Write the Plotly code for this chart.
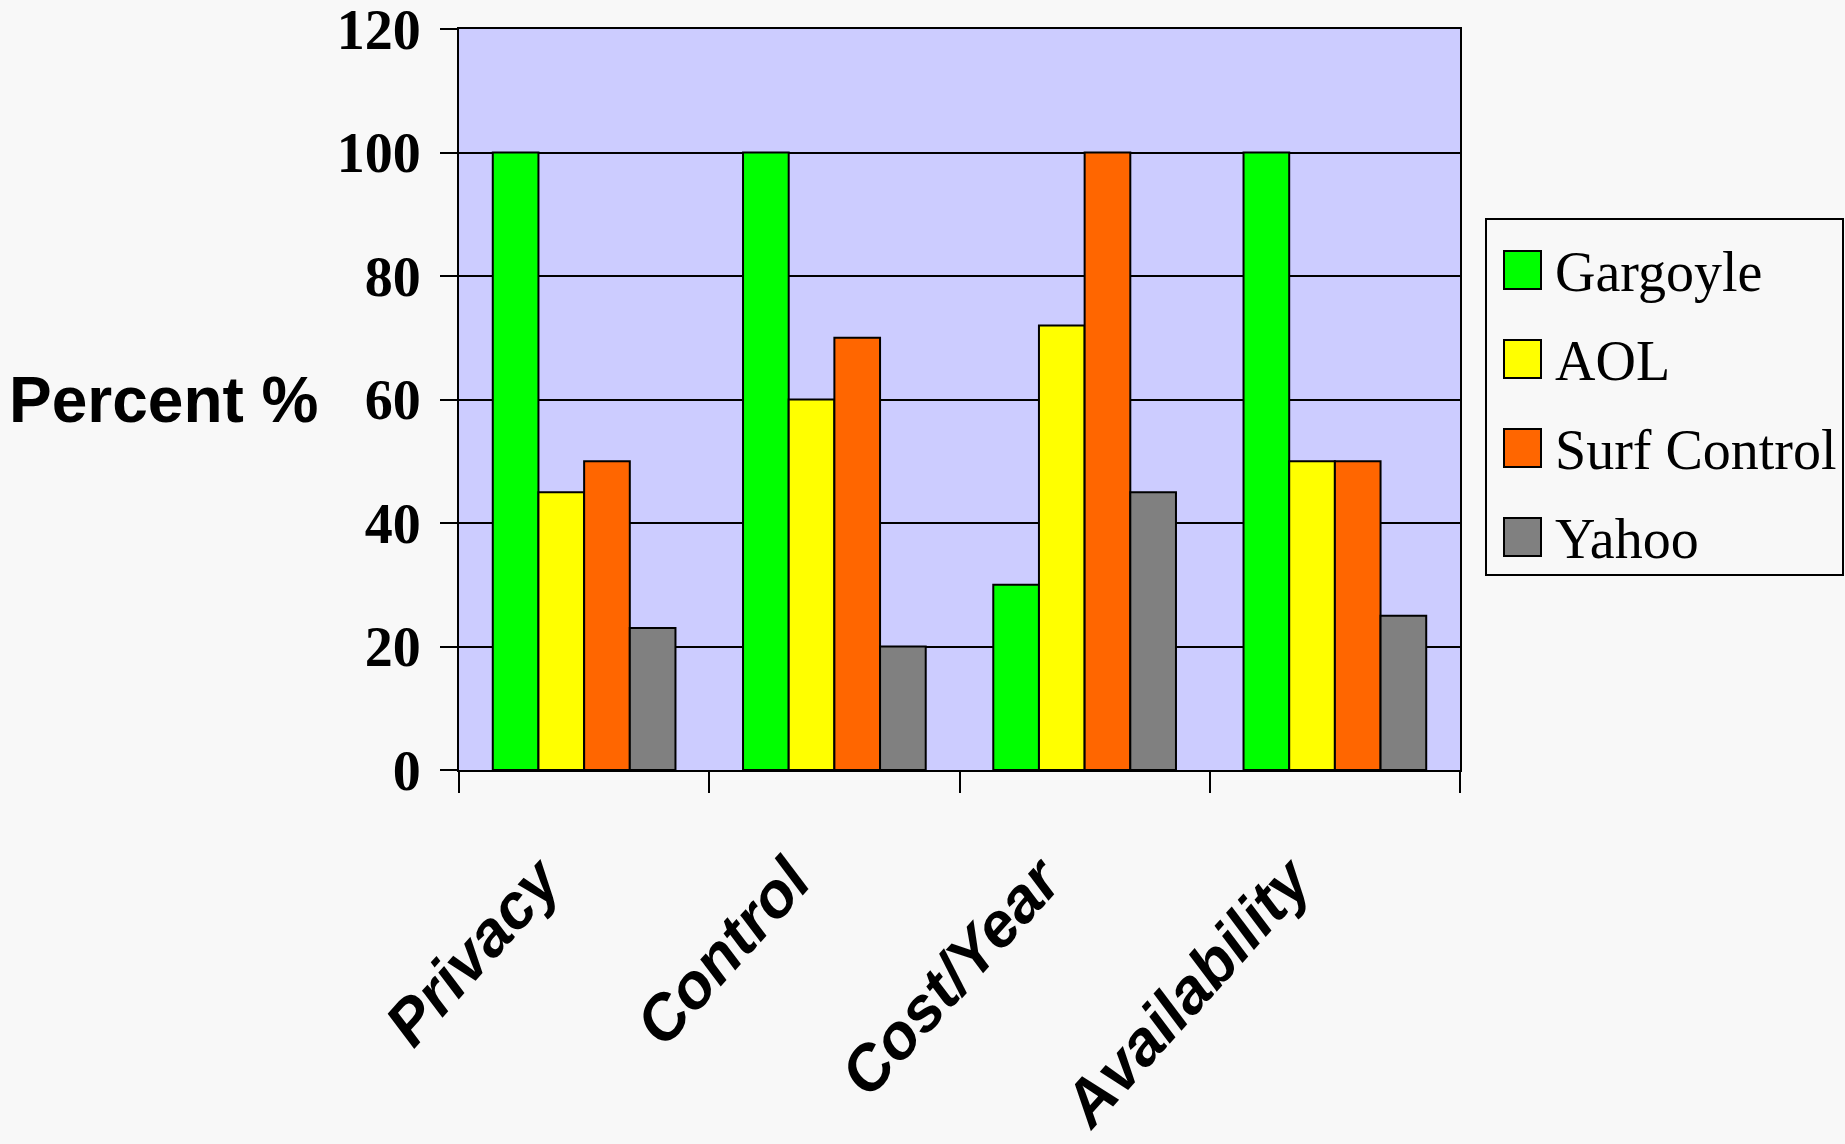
import plotly.graph_objects as go

categories = ["Privacy", "Control", "Cost/Year", "Availability"]
series_names = ["Gargoyle", "AOL", "Surf Control", "Yahoo"]
gargoyle = [100, 100, 30, 100]
aol = [45, 60, 72, 50]
surf_control = [50, 70, 100, 50]
yahoo = [23, 20, 45, 25]
y_ticks = [0, 20, 40, 60, 80, 100, 120]

colors = ["#00FF00", "#FFFF00", "#FF6600", "#808080"]
values = [gargoyle, aol, surf_control, yahoo]

W, H = 1845, 1144
L, R, T, B = 459, 385, 29, 374
pw, ph = W - L - R, H - T - B

def px(x):
    return (x - L) / pw

def py(y):
    return (H - B - y) / ph

fig = go.Figure()
for name, vals, col in zip(series_names, values, colors):
    fig.add_trace(go.Bar(
        x=categories, y=vals, name=name,
        marker=dict(color=col, line=dict(color="black", width=2)),
        showlegend=False,
    ))

# manual legend
shapes = [dict(type="rect", xref="paper", yref="paper",
               x0=px(1486), x1=px(1843), y0=py(575), y1=py(219),
               line=dict(color="black", width=2), fillcolor="#F8F8F8", layer="above")]
annotations = []
row_y = [270, 359, 448, 537]
for name, col, ry in zip(series_names, colors, row_y):
    shapes.append(dict(type="rect", xref="paper", yref="paper",
                       x0=px(1504), x1=px(1541), y0=py(ry + 19), y1=py(ry - 19),
                       line=dict(color="black", width=2), fillcolor=col, layer="above"))
    annotations.append(dict(xref="paper", yref="paper", x=px(1553), y=py(ry + 2),
                            xanchor="left", yanchor="middle", showarrow=False,
                            text=name,
                            font=dict(family="Liberation Serif", size=56, color="black")))

annotations.append(dict(xref="paper", yref="paper", x=px(163), y=py(400),
                        xanchor="center", yanchor="middle", showarrow=False,
                        text="Percent %",
                        font=dict(family="Liberation Sans", size=64, color="black", weight="bold")))

fig.update_layout(
    width=W, height=H,
    margin=dict(l=L, r=R, t=T, b=B, autoexpand=False),
    paper_bgcolor="#F8F8F8",
    plot_bgcolor="#CCCCFF",
    barmode="group", bargap=0.27, bargroupgap=0,
    shapes=shapes, annotations=annotations,
    xaxis=dict(
        automargin=False,
        showline=True, linecolor="black", linewidth=2, mirror=True,
        ticks="outside", tickson="boundaries", ticklen=21, tickwidth=2, tickcolor="black",
        tickangle=-48,
        tickfont=dict(family="Liberation Sans", size=63, color="black", weight="bold", style="italic"),
        ticklabelstandoff=46,
        ticklabelshift=-44,
        showgrid=False,
    ),
    yaxis=dict(
        automargin=False,
        range=[0, 120], tickvals=y_ticks,
        showline=True, linecolor="black", linewidth=2, mirror=True,
        ticks="outside", ticklen=17, tickwidth=2, tickcolor="black",
        showgrid=True, gridcolor="black", gridwidth=2,
        zeroline=False,
        tickfont=dict(family="Liberation Serif", size=56, color="black", weight="bold"),
        ticklabelstandoff=8,
        ticklabeloverflow="allow",
    ),
)

fig.write_html(
    "out.html",
    config={"displayModeBar": False},
    post_script="document.body.style.margin='0';document.body.style.background='#F8F8F8';",
)
